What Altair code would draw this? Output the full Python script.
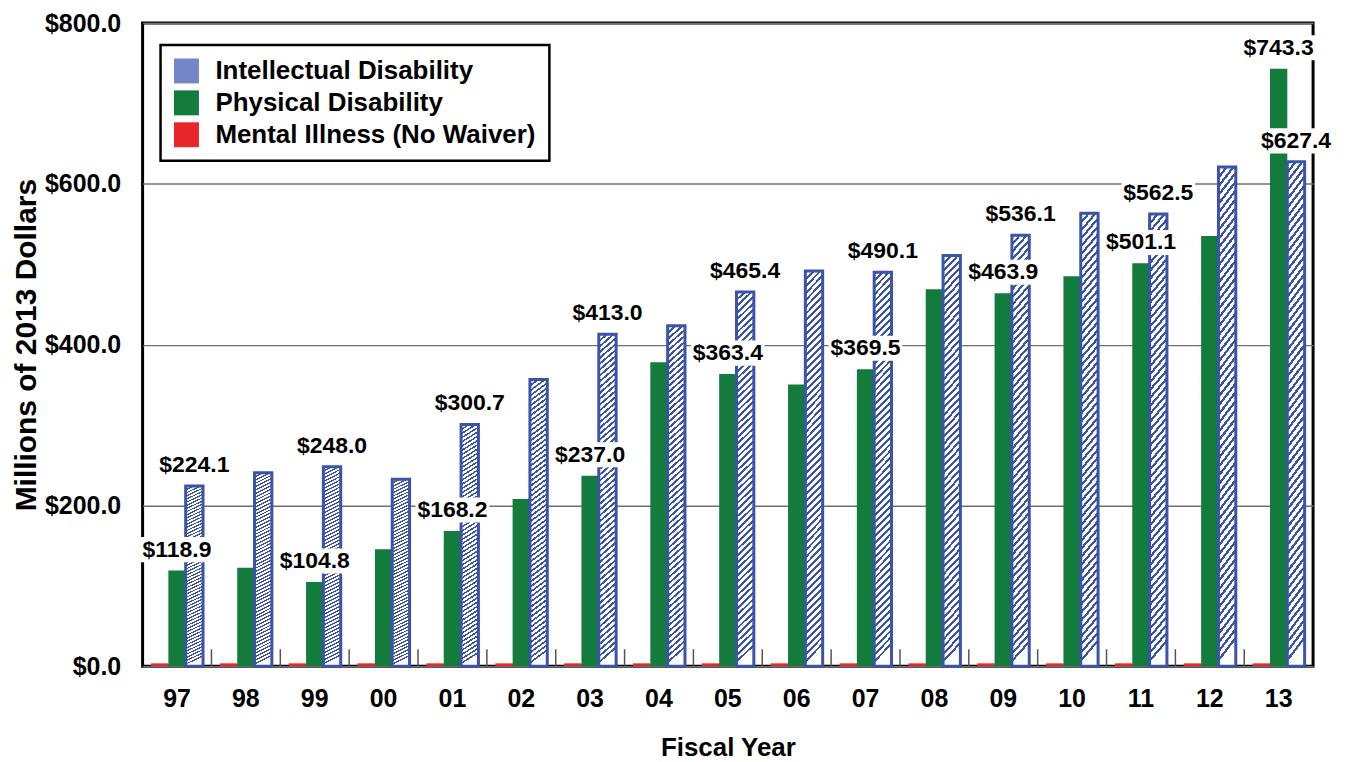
import altair as alt
import pandas as pd

# ---------------- data ----------------
years = ["97", "98", "99", "00", "01", "02", "03", "04", "05",
         "06", "07", "08", "09", "10", "11", "12", "13"]
intellectual = [224.1, 240.5, 248.0, 232.5, 300.7, 356.5, 413.0, 423.5, 465.4,
                491.5, 490.1, 511.0, 536.1, 563.5, 562.5, 621.0, 627.4]
physical = [118.9, 122.5, 104.8, 145.5, 168.2, 208.0, 237.0, 378.0, 363.4,
            350.5, 369.5, 469.0, 463.9, 485.0, 501.1, 535.0, 743.3]
mental = [3.5, 3.5, 3.5, 3.5, 3.5, 3.5, 3.5, 3.5, 3.5,
          3.5, 3.5, 3.5, 3.5, 3.5, 3.5, 3.5, 3.5]
labeled_years = ["97", "99", "01", "03", "05", "07", "09", "11", "13"]

S_INT = "Intellectual Disability"
S_PHY = "Physical Disability"
S_MEN = "Mental Illness (No Waiver)"
legend_order = [S_INT, S_PHY, S_MEN]
bar_order = [S_MEN, S_PHY, S_INT]

rows = []
for i, yr in enumerate(years):
    rows.append({"year": yr, "series": S_MEN, "value": mental[i]})
    rows.append({"year": yr, "series": S_PHY, "value": physical[i]})
    rows.append({"year": yr, "series": S_INT, "value": intellectual[i]})
df = pd.DataFrame(rows)
df["labeled"] = df["year"].isin(labeled_years) & df["series"].isin([S_PHY, S_INT])

# ---------------- style ----------------
FONT = "Liberation Sans"
BLUE = "#3b53a8"
GREEN = "#137b3c"
RED = "#e8262a"
W, H = 1174, 645

# diagonal hatch approximated with a striped linear gradient
n_stripes = 57
frac = 0.42
stops = []
for k in range(n_stripes):
    a = k / n_stripes
    b = (k + frac) / n_stripes
    c = (k + 1) / n_stripes
    stops += [
        {"offset": a, "color": BLUE},
        {"offset": b, "color": BLUE},
        {"offset": b, "color": "white"},
        {"offset": c, "color": "white"},
    ]
hatch = {"gradient": "linear", "x1": 0, "y1": 0, "x2": 0.045, "y2": 1, "stops": stops}


def x_enc(**kw):
    return alt.X(
        "year:N", sort=years,
        scale=alt.Scale(paddingInner=0.245, paddingOuter=0.1225),
        axis=alt.Axis(title="Fiscal Year", labelAngle=0, ticks=False, tickSize=0,
                      domain=False, labelPadding=20, labelFontSize=25,
                      labelFontWeight="bold", labelFont=FONT, labelColor="black",
                      titleFontSize=26, titleFontWeight="bold", titleFont=FONT,
                      titleColor="black", titlePadding=24),
        **kw,
    )


y_enc = alt.Y(
    "value:Q",
    scale=alt.Scale(domain=[0, 800], nice=False),
    axis=alt.Axis(values=[0, 200, 400, 600, 800], format="$.1f",
                  title="Millions of 2013 Dollars", ticks=False, tickSize=0,
                  domain=False, grid=True, gridColor="#707070", gridWidth=1.5,
                  labelPadding=22, labelFontSize=25, labelFontWeight="bold",
                  labelFont=FONT, labelColor="black",
                  titleFontSize=30, titleFontWeight="bold", titleFont=FONT,
                  titleColor="black", titlePadding=3),
)

xoff = alt.XOffset("series:N",
                   scale=alt.Scale(domain=bar_order, paddingInner=0, paddingOuter=0))

base = alt.Chart(df)

bars = base.mark_bar().encode(
    x=x_enc(),
    xOffset=xoff,
    y=y_enc,
    fill=alt.Fill("series:N",
                  scale=alt.Scale(domain=legend_order, range=["#7486c8", GREEN, RED]),
                  legend=alt.Legend(title=None, orient="none", legendX=18, legendY=22,
                                    symbolType="square", symbolSize=625,
                                    symbolStrokeWidth=0, labelFontSize=26,
                                    labelFontWeight="bold", labelFont=FONT,
                                    labelColor="black", labelOffset=16,
                                    rowPadding=6, padding=13, strokeColor="black",
                                    fillColor="white", labelLimit=500)),
)

intel = base.transform_filter(alt.datum.series == S_INT).mark_bar(
    fill=hatch, stroke=BLUE, strokeWidth=3
).encode(x=x_enc(), xOffset=xoff, y=y_enc)

ticks = base.transform_filter(
    (alt.datum.series == S_INT) & (alt.datum.year != "97")
).mark_rule(color="#555555", strokeWidth=1.5, xOffset=-8.45).encode(
    x=x_enc(bandPosition=0),
    y=alt.value(H - 17),
    y2=alt.value(H),
)

lab = base.transform_filter(alt.datum.labeled)

boxes = lab.mark_point(
    shape="M-1,-0.34L1,-0.34L1,0.34L-1,0.34Z", size=5476, filled=True,
    fill="white", opacity=1, strokeWidth=0, yOffset=-21
).encode(x=x_enc(), xOffset=xoff, y=y_enc)

texts = lab.mark_text(
    fontSize=23, fontWeight="bold", font=FONT, color="black",
    baseline="middle", align="center", yOffset=-21
).encode(x=x_enc(), xOffset=xoff, y=y_enc,
         text=alt.Text("value:Q", format="$.1f"))

chart = alt.layer(bars, intel, ticks, boxes, texts).properties(
    width=W, height=H,
    padding={"left": 3, "top": 2, "right": 5, "bottom": 5},
).configure_view(stroke="black", strokeWidth=3).configure_legend(strokeWidth=2.5)

chart.save("out.html", embed_options={"renderer": "svg", "actions": False})
